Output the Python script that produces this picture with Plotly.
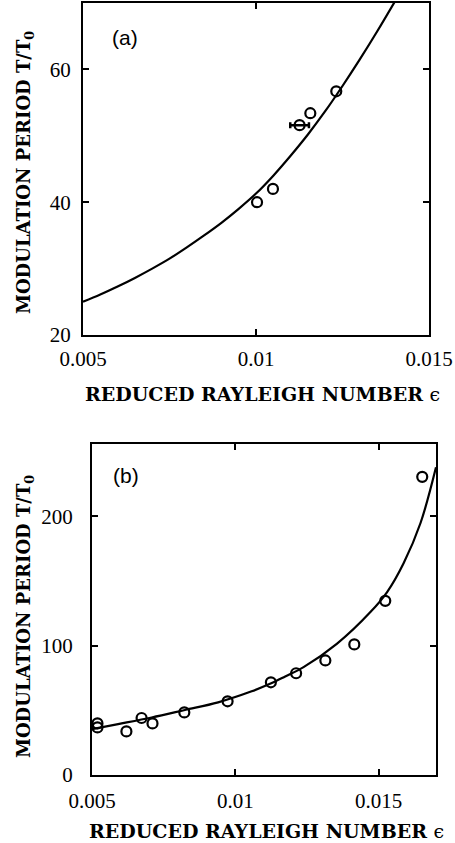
import plotly.graph_objects as go

# ---- Panel (a) data ----
a_eps = [0.01003, 0.01049, 0.01157, 0.01232]
a_T = [40.0, 42.0, 53.4, 56.7]
a_err_eps = [0.01126]
a_err_T = [51.6]
a_err_dx = [0.00027]
a_curve_eps = [0.005, 0.0055, 0.006, 0.0065, 0.007, 0.0075, 0.008, 0.0085, 0.009, 0.0095,
               0.010, 0.0105, 0.011, 0.0115, 0.012, 0.0125, 0.013, 0.0135, 0.014]
a_curve_T = [25.0, 26.1, 27.3, 28.6, 30.0, 31.5, 33.2, 35.0, 36.9, 39.0,
             41.3, 44.0, 47.0, 50.2, 53.7, 57.5, 61.5, 65.7, 70.1]

# ---- Panel (b) data ----
b_eps = [0.00519, 0.00519, 0.0062, 0.00673, 0.00711, 0.00822, 0.00973, 0.01124,
         0.01212, 0.01314, 0.01415, 0.01523, 0.01652]
b_T = [39.9, 36.8, 33.7, 44.1, 39.9, 48.4, 57.0, 71.7,
       78.7, 88.6, 101.0, 134.7, 230.6]
b_curve_eps = [0.005, 0.00591, 0.00708, 0.00824, 0.0094, 0.01057, 0.01121, 0.01174,
               0.01238, 0.01355, 0.01472, 0.0153, 0.01587, 0.01646, 0.017]
b_curve_T = [35.5, 39.4, 44.5, 50.3, 56.2, 64.7, 70.5, 76.2,
             83.4, 101.6, 126.2, 141.7, 163.8, 194.9, 238.0]

x_ticks = [0.005, 0.01, 0.015]
x_ticktext = ["0.005", "0.01", "0.015"]
ya_ticks = [20, 40, 60]
yb_ticks = [0, 100, 200]

W, H = 455, 843
BLACK = "black"
marker = dict(symbol="circle-open", size=10, color=BLACK, line=dict(width=2.2, color=BLACK))

fig = go.Figure()
fig.add_trace(go.Scatter(x=a_curve_eps, y=a_curve_T, mode="lines",
                         line=dict(color=BLACK, width=2.2, shape="spline", smoothing=1.0),
                         xaxis="x", yaxis="y", showlegend=False, hoverinfo="skip"))
fig.add_trace(go.Scatter(x=a_eps, y=a_T, mode="markers", marker=marker, xaxis="x", yaxis="y", showlegend=False))
fig.add_trace(go.Scatter(x=a_err_eps, y=a_err_T, mode="markers", marker=marker,
                         error_x=dict(type="data", array=a_err_dx, color=BLACK, thickness=2.5, width=3),
                         xaxis="x", yaxis="y", showlegend=False))

fig.add_trace(go.Scatter(x=b_curve_eps, y=b_curve_T, mode="lines",
                         line=dict(color=BLACK, width=2.2, shape="spline", smoothing=1.0),
                         xaxis="x2", yaxis="y2", showlegend=False, hoverinfo="skip"))
fig.add_trace(go.Scatter(x=b_eps, y=b_T, mode="markers", marker=marker, xaxis="x2", yaxis="y2", showlegend=False))

tickfont = dict(family="Liberation Serif", size=21, color=BLACK)
common = dict(showline=True, linecolor=BLACK, linewidth=2, mirror="ticks", ticks="inside",
              ticklen=6, tickwidth=2, tickcolor=BLACK, showgrid=False, zeroline=False,
              tickfont=tickfont, automargin=False)

fig.update_layout(
    width=W, height=H, template="none",
    margin=dict(l=0, r=0, t=0, b=0),
    paper_bgcolor="white", plot_bgcolor="white",
    showlegend=False,
    xaxis=dict(domain=[83 / W, 429 / W], range=[0.005, 0.015], tickvals=x_ticks, ticktext=x_ticktext,
               anchor="y", ticklabelstandoff=4, **common),
    yaxis=dict(domain=[(H - 335) / H, (H - 3) / H], range=[20, 70], tickvals=ya_ticks,
               anchor="x", ticklabelstandoff=6, **common),
    xaxis2=dict(domain=[92 / W, 436 / W], range=[0.005, 0.017], tickvals=x_ticks, ticktext=x_ticktext,
                anchor="y2", ticklabelstandoff=6, **common),
    yaxis2=dict(domain=[(H - 775) / H, (H - 444) / H], range=[0, 256], tickvals=yb_ticks,
                anchor="x2", ticklabelstandoff=13, **common),
)

xtitle_font = dict(family="DejaVu Serif", size=19, color=BLACK, weight="bold")
ytitle_font = dict(family="DejaVu Serif", size=18, color=BLACK, weight="bold")
xtitle = "REDUCED RAYLEIGH NUMBER <span style='font-weight:normal'>ϵ</span>"
ytitle = "MODULATION PERIOD T/T<sub>0</sub>"
ann = [
    dict(x=262 / W, y=1 - 394 / H, text=xtitle, font=xtitle_font),
    dict(x=266 / W, y=1 - 831 / H, text=xtitle, font=xtitle_font),
    dict(x=25 / W, y=1 - 173 / H, text=ytitle, font=ytitle_font, textangle=-90),
    dict(x=25 / W, y=1 - 617 / H, text=ytitle, font=ytitle_font, textangle=-90),
    dict(x=125 / W, y=1 - 38 / H, text="(a)", font=dict(family="Liberation Sans", size=21, color=BLACK)),
    dict(x=125.5 / W, y=1 - 476 / H, text="(b)", font=dict(family="Liberation Sans", size=21, color=BLACK)),
]
for a in ann:
    a.update(xref="paper", yref="paper", showarrow=False, xanchor="center", yanchor="middle")
fig.update_layout(annotations=ann)

fig.write_html("out.html", config={"displayModeBar": False},
               post_script="document.body.style.margin='0';document.body.style.overflow='hidden';")
